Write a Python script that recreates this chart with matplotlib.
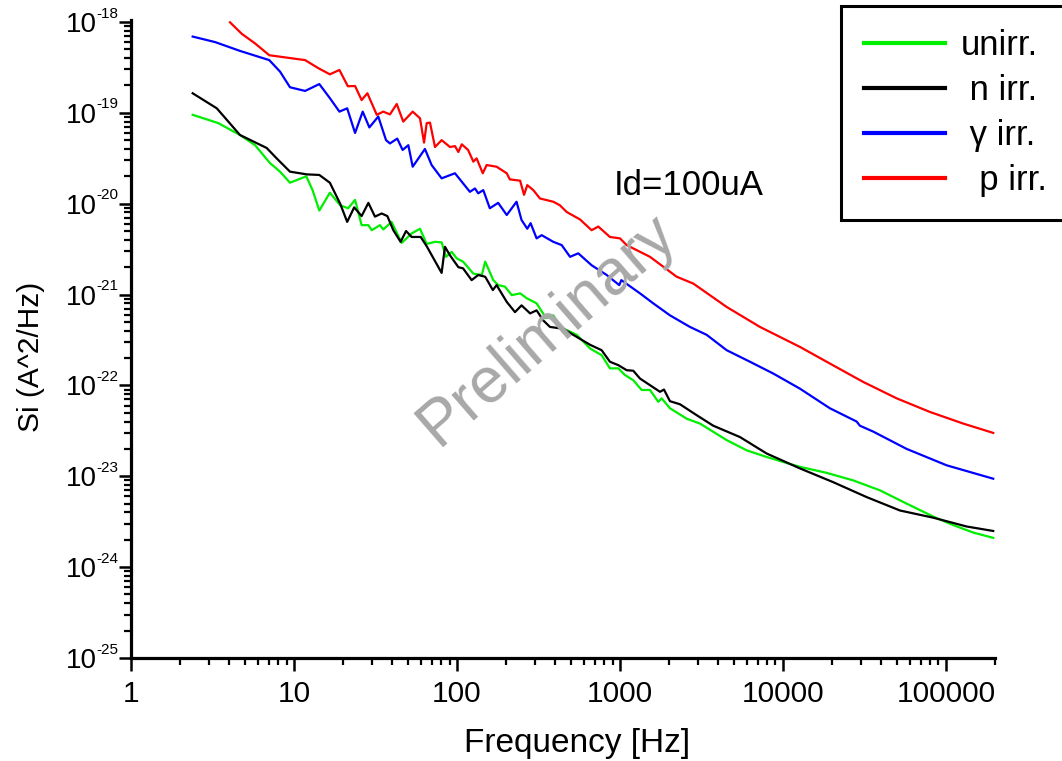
import matplotlib
matplotlib.use("Agg")
import matplotlib.pyplot as plt
import matplotlib.transforms as mtransforms
from matplotlib.ticker import FixedLocator, LogLocator, NullFormatter

plt.rcParams['font.family'] = ['Liberation Sans', 'DejaVu Sans']

# noise spectra, Id = 100 uA
unirr_f = [2.39, 3.43, 4.66, 5.77, 7.12, 8.21, 9.45, 11.9, 13.0, 14.3, 16.6, 19.2, 21.5, 23.7, 26.0, 28.6,
           30.0, 33.7, 35.3, 39.7, 45.8, 52.7, 59.3, 65.2, 73.3, 80.5, 85.6, 92.8, 99.6, 109, 126, 142, 149,
           167, 179, 197, 217, 244, 268, 308, 352, 390, 428, 494, 543, 655, 772, 868, 977, 1073, 1207, 1359,
           1528, 1718, 1803, 2027, 2567, 3097, 4515, 5986, 7943, 10540, 12720, 18540, 27000, 39360, 57400,
           83600, 110900, 147200, 195000]
unirr_s = [9.5e-20, 7.7e-20, 5.7e-20, 4.4e-20, 2.8e-20, 2.25e-20, 1.7e-20, 2.0e-20, 1.41e-20, 8.4e-21,
           1.32e-20, 9.6e-21, 8.9e-21, 1.1e-20, 5.8e-21, 5.8e-21, 5.1e-21, 5.8e-21, 5.2e-21, 6.3e-21,
           3.7e-21, 4.7e-21, 5.3e-21, 3.6e-21, 3.8e-21, 3.75e-21, 2.6e-21, 2.95e-21, 2.5e-21, 2.3e-21,
           1.7e-21, 1.64e-21, 2.3e-21, 1.44e-21, 1.27e-21, 1.22e-21, 9.85e-22, 1.03e-21, 9.1e-22, 8.0e-22,
           5.5e-22, 5.9e-22, 4.4e-22, 3.9e-22, 3.6e-22, 2.55e-22, 2.15e-22, 1.54e-22, 1.54e-22, 1.3e-22,
           1.14e-22, 8.9e-23, 8.9e-23, 6.6e-23, 7.2e-23, 5.6e-23, 4.3e-23, 3.8e-23, 2.5e-23, 1.93e-23,
           1.63e-23, 1.4e-23, 1.27e-23, 1.09e-23, 9.0e-24, 7.0e-24, 5.0e-24, 3.6e-24, 2.9e-24, 2.4e-24,
           2.1e-24]

nirr_f = [2.39, 3.36, 4.66, 6.80, 7.83, 9.45, 12.0, 14.3, 16.6, 19.2, 21.2, 23.4, 26.0, 28.6, 31.4, 34.5,
          37.4, 40.7, 45.1, 48.7, 52.7, 59.9, 65.2, 80.5, 84.4, 90.6, 102, 109, 123, 135, 149, 166, 175,
          202, 227, 249, 281, 308, 338, 372, 449, 517, 655, 772, 868, 977, 1099, 1207, 1327, 1760, 1862,
          2027, 2335, 2956, 3736, 5450, 7943, 12720, 20370, 32620, 52240, 83600, 134000, 195000]
nirr_s = [1.64e-19, 1.12e-19, 5.7e-20, 4.1e-20, 3.15e-20, 2.25e-20, 2.1e-20, 2.07e-20, 1.7e-20, 1.0e-20,
          6.3e-21, 9.1e-21, 7.3e-21, 1.02e-20, 7.2e-21, 7.8e-21, 7.3e-21, 5.1e-21, 3.8e-21, 5.0e-21,
          4.3e-21, 4.3e-21, 3.4e-21, 1.73e-21, 3.35e-21, 2.7e-21, 2.0e-21, 1.94e-21, 1.44e-21, 1.64e-21,
          1.57e-21, 1.12e-21, 1.27e-21, 8.3e-22, 6.4e-22, 7.6e-22, 6.2e-22, 6.7e-22, 5.2e-22, 4.4e-22,
          4.2e-22, 3.6e-22, 2.8e-22, 2.44e-22, 1.82e-22, 1.67e-22, 1.47e-22, 1.45e-22, 1.19e-22, 8.5e-23,
          9.0e-23, 6.7e-23, 6.2e-23, 4.7e-23, 3.6e-23, 2.7e-23, 1.78e-23, 1.22e-23, 8.6e-24, 5.9e-24,
          4.2e-24, 3.5e-24, 2.8e-24, 2.5e-24]

girr_f = [2.39, 3.28, 4.66, 7.05, 8.21, 9.45, 11.7, 14.3, 16.6, 19.0, 21.2, 23.7, 26.4, 29.0, 32.9, 36.7,
          38.8, 43.0, 46.4, 50.3, 53.5, 63.6, 69.9, 80.5, 97.2, 120, 129, 135, 145, 159, 179, 202, 232,
          249, 270, 283, 308, 331, 390, 439, 494, 555, 670, 829, 990, 1020, 1327, 1600, 2027, 2688, 3404,
          4515, 6277, 8724, 12720, 19410, 28330, 29660, 35810, 57400, 101000, 195000]
girr_s = [6.9e-19, 6.0e-19, 4.8e-19, 3.8e-19, 2.84e-19, 1.91e-19, 1.74e-19, 2.07e-19, 1.45e-19, 1.03e-19,
          1.12e-19, 6.0e-20, 1.03e-19, 6.9e-20, 9.1e-20, 5.0e-20, 4.6e-20, 5.2e-20, 3.9e-20, 4.4e-20,
          2.55e-20, 4.0e-20, 2.66e-20, 1.9e-20, 2.16e-20, 1.35e-20, 1.47e-20, 1.3e-20, 1.41e-20, 8.9e-21,
          1.02e-20, 7.5e-21, 1.05e-20, 6.6e-21, 5.3e-21, 6.1e-21, 4.15e-21, 4.5e-21, 3.8e-21, 3.5e-21,
          2.6e-21, 2.84e-21, 2.1e-21, 1.64e-21, 1.27e-21, 1.44e-21, 1.03e-21, 8.0e-22, 5.9e-22, 4.4e-22,
          3.6e-22, 2.44e-22, 1.82e-22, 1.35e-22, 9.2e-23, 5.6e-23, 4.0e-23, 3.6e-23, 3.1e-23, 2.0e-23,
          1.32e-23, 9.4e-24]

pirr_f = [4.05, 4.78, 5.77, 7.05, 11.7, 14.1, 16.6, 19.0, 21.4, 23.7, 26.0, 28.2, 32.2, 35.3, 38.8, 42.7,
          46.8, 53.5, 59.3, 62.8, 65.2, 68.3, 73.3, 80.5, 90.6, 97.2, 102, 107, 117, 126, 132, 144, 152,
          175, 202, 211, 244, 258, 270, 294, 323, 390, 428, 471, 569, 670, 736, 868, 1000, 1099, 1528,
          2228, 2818, 4515, 7228, 12720, 19410, 31120, 49880, 79800, 127700, 195000]
pirr_s = [9.9e-19, 7.4e-19, 5.8e-19, 4.3e-19, 3.8e-19, 3.1e-19, 2.65e-19, 2.96e-19, 1.96e-19, 1.97e-19,
          1.38e-19, 1.64e-19, 9.5e-20, 1.03e-19, 9.6e-20, 1.25e-19, 8.0e-20, 1.03e-19, 8.7e-20, 4.7e-20,
          7.7e-20, 7.8e-20, 4.2e-20, 5.0e-20, 4.2e-20, 4.3e-20, 3.7e-20, 4.5e-20, 3.9e-20, 2.9e-20,
          3.15e-20, 2.16e-20, 2.66e-20, 2.55e-20, 2.16e-20, 1.85e-20, 1.79e-20, 1.25e-20, 1.6e-20, 1.41e-20,
          1.14e-20, 1.05e-20, 9.6e-21, 8.1e-21, 6.7e-21, 5.1e-21, 5.6e-21, 4.3e-21, 4.15e-21, 3.5e-21,
          2.6e-21, 1.57e-21, 1.32e-21, 7.3e-22, 4.4e-22, 2.65e-22, 1.74e-22, 1.09e-22, 7.2e-23, 5.1e-23,
          3.8e-23, 3.0e-23]

x_ticks = [1, 10, 100, 1000, 10000, 100000]
x_labels = ['1', '10', '100', '1000', '10000', '100000']
y_exps = [-25, -24, -23, -22, -21, -20, -19, -18]

fig = plt.figure(figsize=(10.62, 7.61), dpi=100)
ax = fig.add_axes([131 / 1062, 103 / 761, 864 / 1062, 638 / 761])

ax.plot(unirr_f, unirr_s, color='#00ee00', lw=1.6, label='unirr.')
ax.plot(nirr_f, nirr_s, color='black', lw=1.6, label=' n irr.')
ax.plot(girr_f, girr_s, color='#0000ff', lw=1.6, label=' \u03b3 irr.')
ax.plot(pirr_f, pirr_s, color='#ff0000', lw=1.6, label='  p irr.')

ax.set_xscale('log')
ax.set_yscale('log')
ax.set_xlim(1, 2.0e5)
ax.set_ylim(1e-25, 1.05e-18)

for side in ('top', 'right'):
    ax.spines[side].set_visible(False)
for side in ('left', 'bottom'):
    ax.spines[side].set_linewidth(2.3)

ax.xaxis.set_major_locator(FixedLocator(x_ticks))
ax.set_xticklabels(x_labels, fontsize=21.5)
ax.xaxis.set_minor_locator(LogLocator(base=10, subs=range(2, 10), numticks=20))
ax.xaxis.set_minor_formatter(NullFormatter())

# y labels: big "10" on the tick, small exponent set up and to the right
ax.yaxis.set_major_locator(FixedLocator([10.0 ** e for e in y_exps]))
ax.set_yticklabels(['10'] * len(y_exps), fontsize=20)
ax.yaxis.set_minor_locator(LogLocator(base=10, subs=range(2, 10), numticks=20))
ax.yaxis.set_minor_formatter(NullFormatter())
exp_trans = mtransforms.offset_copy(ax.get_yaxis_transform(), fig=fig, x=0, y=6, units='points')
for e in y_exps:
    ax.text(-0.0395, 10.0 ** e, str(e), transform=exp_trans, fontsize=11,
            ha='left', va='center', clip_on=False)

ax.tick_params(which='major', direction='out', length=9, width=1.8)
ax.tick_params(which='minor', direction='out', length=5, width=1.6)
ax.tick_params(axis='x', which='major', pad=7)
ax.tick_params(axis='y', which='major', pad=15.5)

ax.set_xlabel('Frequency [Hz]', fontsize=24)
ax.set_ylabel('Si (A^2/Hz)', fontsize=21.5)
ax.xaxis.set_label_coords(0.516, -0.11)
ax.yaxis.set_label_coords(-0.100, 0.472)

ax.text(0.646, 0.741, 'Id=100uA', transform=ax.transAxes, fontsize=25, ha='center', va='center')

fig.text(548 / 1062, 1 - 330 / 761, 'Preliminary', fontsize=46, color='#a8a8a8',
         rotation=41, ha='center', va='center', rotation_mode='anchor')

leg = ax.legend(loc='upper left', bbox_to_anchor=(841 / 1062, 0, 0.25, 1 - 6 / 761),
                bbox_transform=fig.transFigure, mode='expand', borderaxespad=0,
                fontsize=25, handlelength=2.33, handletextpad=0.45, labelspacing=0.35,
                borderpad=0.66, fancybox=False, framealpha=1)
leg.get_frame().set_edgecolor('black')
leg.get_frame().set_linewidth(2.2)
for line in leg.get_lines():
    line.set_linewidth(3)

fig.savefig('out.png', dpi=100)
